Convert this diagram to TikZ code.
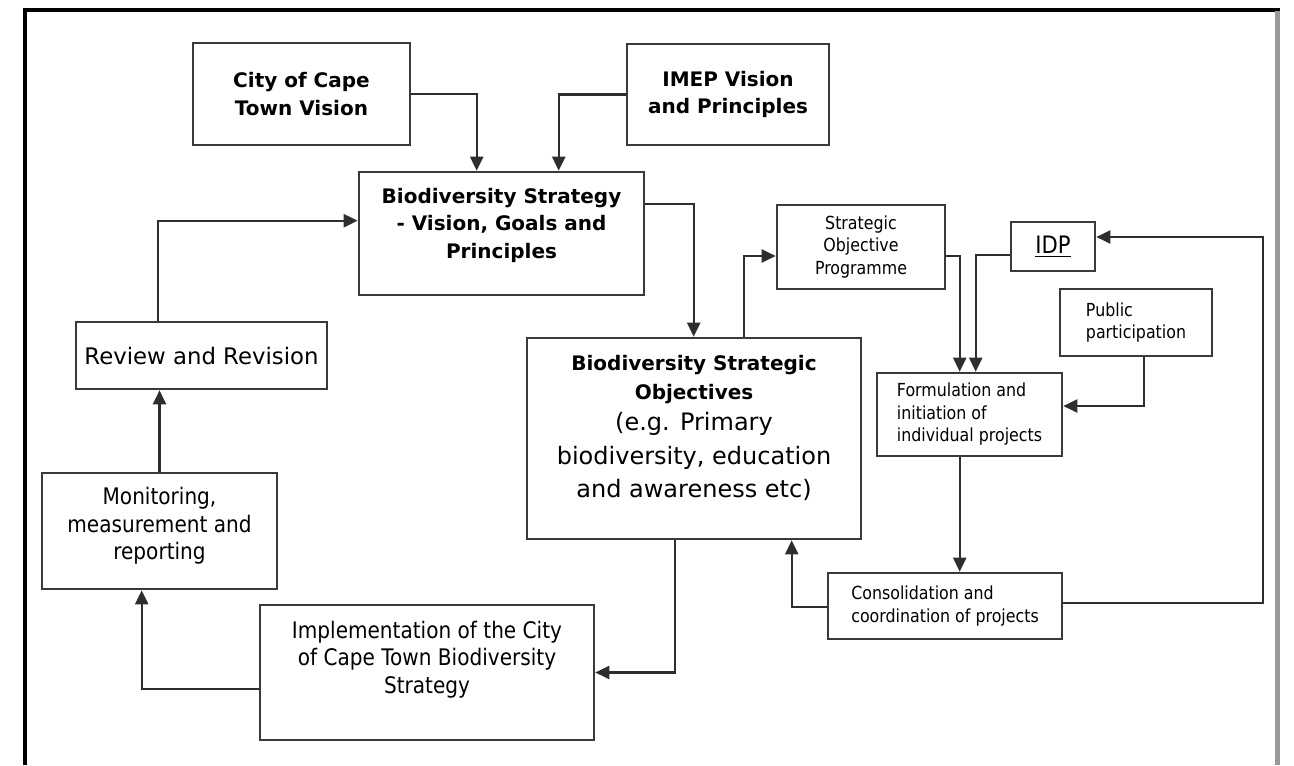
\documentclass[tikz,border=0pt]{standalone}
\usepackage{fontspec}
\usetikzlibrary{calc,arrows.meta}
\newfontfamily\verd{DejaVu Sans}
\newfontfamily\tah{DejaVu Sans}[FakeStretch=0.88]
\newcommand{\lift}[1]{\rule[-#1]{0pt}{#1}}
\definecolor{boxline}{HTML}{3A3A3A}
\definecolor{linkline}{HTML}{2E2E2E}
\tikzset{
  box/.style={draw=boxline, line width=1.3pt, inner sep=1pt, align=center},
  headtext/.style={font=\verd\bfseries\fontsize{10}{13.75}\selectfont},
  plaintext/.style={font=\verd\fontsize{11.4}{13.75}\selectfont},
  narrowtext/.style={font=\tah\fontsize{11.4}{13.75}\selectfont},
  smalltext/.style={font=\tah\fontsize{9}{11.25}\selectfont, align=left},
  link/.style={draw=linkline, line width=1.1pt},
  arr/.style={link, -{Triangle[length=7pt,width=6.5pt]}},
}
\begin{document}
\begin{tikzpicture}[x=0.5pt, y=-0.5pt]
  \useasboundingbox (0,0) rectangle (1294,765);

  % frame of the page
  \draw[black, line width=2pt] (25,765) -- (25,10) -- (1280,10);
  \draw[gray!80, line width=2.5pt] (1277,11) -- (1277,765);

  % left part: strategy cycle
  \node[box, headtext, minimum width=108.5pt, minimum height=51pt] (city) at (301.5,94) {City of Cape\\Town Vision};
  \node[box, headtext, minimum width=101pt, minimum height=50.5pt] (imep) at (728,94.5) {IMEP Vision\\and Principles};
  \node[box, headtext, minimum width=142.5pt, minimum height=61.5pt] (strat) at (501.5,233.5) {Biodiversity Strategy\\- Vision, Goals and\\Principles\lift{10.4pt}};
  \node[box, plaintext, minimum width=125.5pt, minimum height=33.5pt] (review) at (201.5,355.5) {Review and Revision};
  \node[box, narrowtext, minimum width=117.5pt, minimum height=58pt] (monit) at (159.5,531) {Monitoring,\\measurement and\\reporting\lift{7.2pt}};
  \node[box, narrowtext, minimum width=167pt, minimum height=67.5pt] (impl) at (427,672.5) {Implementation of the City\\of Cape Town Biodiversity\\Strategy\lift{15.2pt}};
  \node[box, font=\verd\fontsize{12}{16.5}\selectfont, minimum width=167pt, minimum height=100.5pt] (obj) at (694,438.5)
    {{\bfseries\fontsize{10}{13.75}\selectfont Biodiversity Strategic}\\[-2pt]{\bfseries\fontsize{10}{13.75}\selectfont Objectives}\\[-1pt](e.g. Primary\\[0.5pt]biodiversity, education\\and awareness etc)\lift{12.6pt}};

  % right part: projects
  \node[box, smalltext, align=center, minimum width=84pt, minimum height=42pt] (sop) at (861,247) {Strategic\\Objective\\Programme};
  \node[box, font=\tah\fontsize{12}{14}\selectfont, minimum width=42pt, minimum height=24.5pt] (idp) at (1053,246.5) {\underline{IDP}};
  \node[box, smalltext, minimum width=76pt, minimum height=33.5pt] (pub) at (1136,322.5) {Public\\participation};
  \node[box, smalltext, minimum width=92.5pt, minimum height=41.5pt] (form) at (969.5,414.5) {Formulation and\\initiation of\\individual projects};
  \node[box, smalltext, minimum width=117pt, minimum height=33pt] (cons) at (945,606) {Consolidation and\\coordination of projects};

  % connectors
  \draw[arr] (city.east) -| ($(strat.north west)+(119,0)$);
  \draw[arr] (imep.west) -| ($(strat.north west)+(201,0)$);
  \draw[arr] ($(strat.north east)+(0,33)$) -| ($(obj.north west)+(168,0)$);
  \draw[arr] ($(review.north west)+(83,0)$) |- ($(strat.north west)+(0,50)$);
  \draw[arr] (monit.north) -- (monit.north |- review.south);
  \draw[arr] ($(impl.west)+(0,16.5)$) -| ($(monit.south west)+(101,0)$);
  \draw[arr] ($(obj.south west)+(149,0)$) |- (impl.east);
  \draw[arr] ($(obj.north west)+(218,0)$) |- ($(sop.west)+(0,9)$);
  \draw[arr] ($(sop.east)+(0,9)$) -| ($(form.north west)+(84,0)$);
  \draw[arr] ($(idp.west)+(0,8.5)$) -| ($(form.north west)+(100,0)$);
  \draw[arr] ($(pub.south west)+(85,0)$) |- ($(form.east)+(0,-8.5)$);
  \draw[arr] ($(form.south west)+(84,0)$) -- ($(cons.north west)+(133,0)$);
  \draw[arr] ($(cons.west)+(0,1)$) -| ($(obj.south west)+(266,0)$);
  \draw[arr] ($(cons.east)+(0,-3)$) -- ++(200,0) |- ($(idp.east)+(0,-9.5)$);
\end{tikzpicture}
\end{document}
